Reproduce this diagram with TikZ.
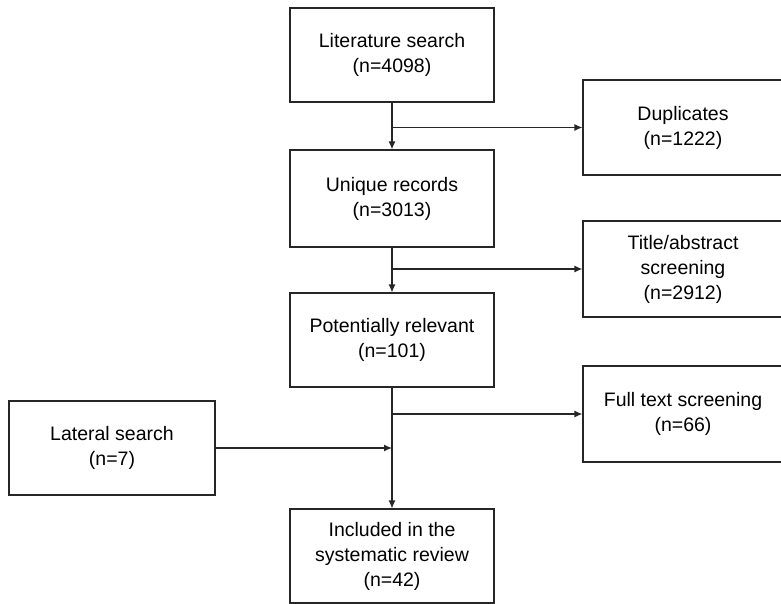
\documentclass[tikz,border=0pt]{standalone}
\usepackage{fontspec}
\setmainfont{Liberation Sans}
\usetikzlibrary{arrows.meta}

\begin{document}
\begin{tikzpicture}[x=1pt, y=-1pt,
	stagebox/.style={draw=black!85, line width=1.2pt, align=center, inner sep=2pt,
		minimum width=204pt, minimum height=94pt, font=\fontsize{19.5}{25}\selectfont},
	sidebox/.style={stagebox, minimum width=200pt, minimum height=96pt},
	flow/.style={draw=black!85, line width=1.2pt, -{Latex[length=8pt, width=7pt]}}]
			%%%%% START %%%%%
			
			\useasboundingbox (0, 0) rectangle (781, 604);
			
			\node[stagebox] (lit) at (392, 55) {Literature search\\(n=4098)};
			\node[stagebox, minimum height=97pt] (uniq) at (392, 198.5) {Unique records\\(n=3013)};
			\node[stagebox] (pot) at (392, 340) {Potentially relevant\\(n=101)};
			\node[stagebox] (incl) at (392, 556) {Included in the\\systematic review\\(n=42)};
			
			\node[sidebox, minimum height=95pt] (dup) at (683, 127.5) {Duplicates\\(n=1222)};
			\node[sidebox] (title) at (683, 269) {Title/abstract\\screening\\(n=2912)};
			\node[sidebox] (full) at (683, 414) {Full text screening\\(n=66)};
			\node[stagebox, minimum width=206pt] (lat) at (112, 448) {Lateral search\\(n=7)};
			
			\draw[flow] (lit.south) -- (uniq.north);
			\draw[flow] (uniq.south) -- (pot.north);
			\draw[flow] (pot.south) -- (incl.north);
			
			\draw[flow] (lit.south |- dup.west) -- (dup.west);
			\draw[flow] (uniq.south |- title.west) -- (title.west);
			\draw[flow] (pot.south |- full.west) -- (full.west);
			\draw[flow] (lat.east) -- (pot.south |- lat.east);
			
			%%%%% END %%%%%
\end{tikzpicture}
\end{document}
